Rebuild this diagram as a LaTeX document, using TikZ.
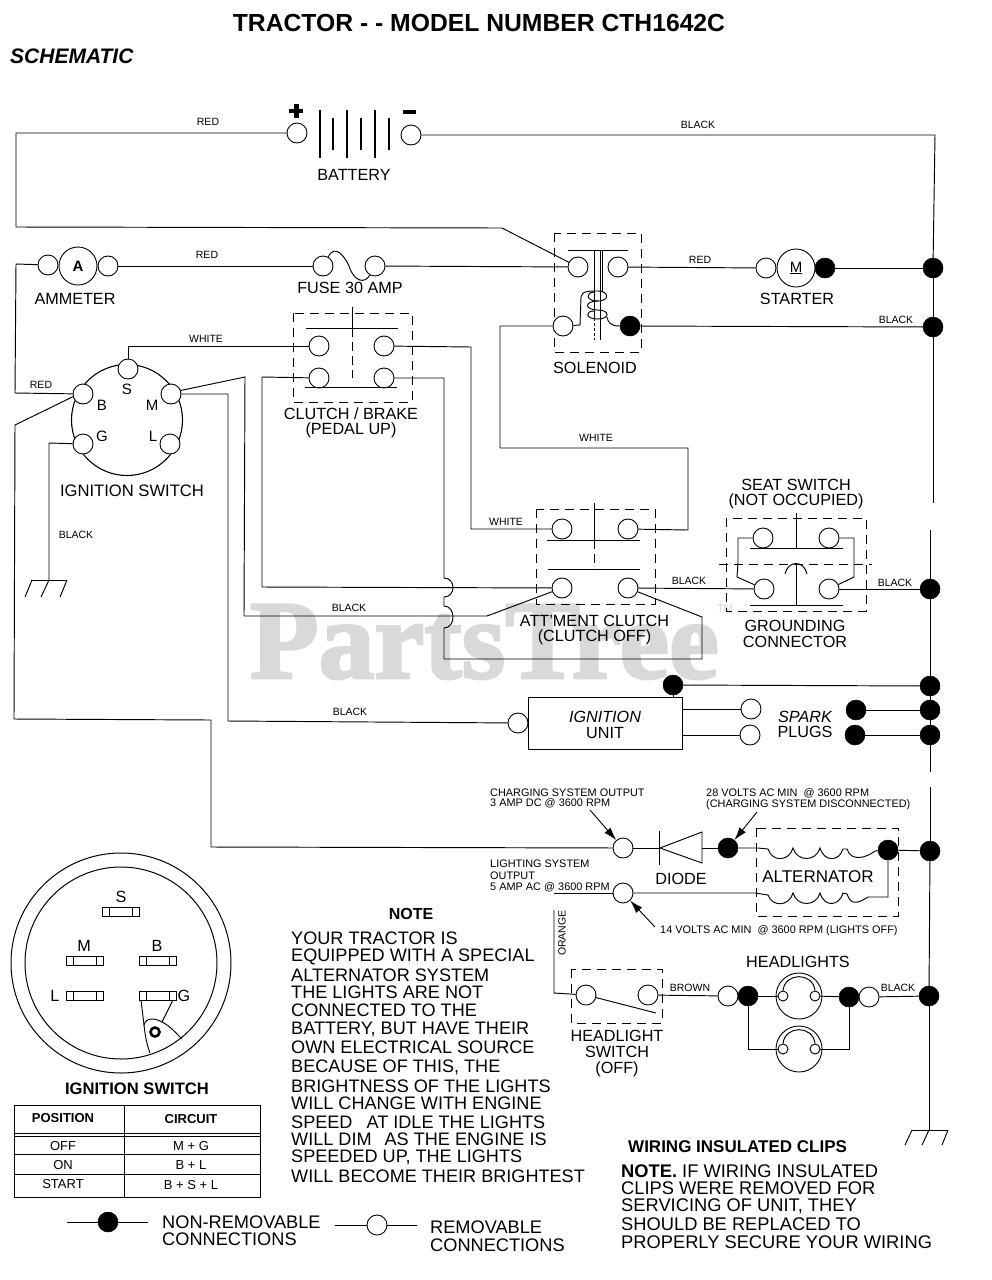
\documentclass[tikz,border=0pt]{standalone}
\usepackage{fontspec}
\setmainfont{Liberation Sans}
\newfontfamily\wmfont[FakeBold=2.5]{Liberation Serif Bold}
\usetikzlibrary{arrows.meta}
\newcommand{\fs}[1]{\fontsize{#1}{#1}\selectfont}
\tikzset{
  wire/.style={line width=0.95pt,line join=miter},
  opn/.style={circle,draw,fill=white,line width=0.9pt,minimum size=20pt,inner sep=0pt},
  dotc/.style={circle,draw,fill=black,line width=0.5pt,minimum size=20pt,inner sep=0pt},
  tiny/.style={circle,draw,fill=white,line width=0.9pt,minimum size=10pt,inner sep=0pt},
  dbox/.style={line width=0.9pt,dash pattern=on 9pt off 6pt},
  lab/.style={inner sep=0pt,font=\fs{16.2}},
  small/.style={inner sep=0pt,font=\fs{10.5}},
  mini/.style={inner sep=0pt,font=\fs{10.9}},
  txt/.style={inner sep=0pt,anchor=west,font=\fs{18.3}},
  ntxt/.style={inner sep=0pt,anchor=west,font=\fs{18.1}},
  leg/.style={inner sep=0pt,anchor=west,font=\fs{18.2}},
  pointer/.style={line width=0.9pt,-{Latex[length=13pt,width=8pt]}},
}
\begin{document}
\begin{tikzpicture}[x=1pt,y=-1pt]
\useasboundingbox (0,0) rectangle (992,1280);
\fill[white] (0,0) rectangle (992,1280);

% watermark
\node[inner sep=0pt,anchor=base west,text=black!15,font={\fontsize{112}{112}\selectfont\wmfont}] (wm) at (250,678) {PartsTree};
\node[inner sep=0pt,text=black!15,font=\fs{11}] (tm) at (725,609) {TM};

% titles
\node[inner sep=0pt,font={\fs{24.7}\bfseries}] (title) at (479,23) {TRACTOR - - MODEL NUMBER CTH1642C};
\node[inner sep=0pt,anchor=west,font={\fs{21}\bfseries\itshape}] (sch) at (10,56) {SCHEMATIC};

%%% battery
\node[opn] (batp) at (297,133) {};
\node[opn] (batn) at (411,135) {};
\foreach \x in {320,347,375} \draw[line width=1.1pt] (\x,110) -- (\x,158);
\foreach \x in {333,361,389} \draw[line width=1.1pt] (\x,118) -- (\x,150);
\fill (293.5,104) rectangle (298.5,118);
\fill (289,109) rectangle (303,113);
\fill (403,110) rectangle (416,114);
\node[lab] (batl) at (354,175) {BATTERY};
\node[small] at (208,122) {RED};
\node[small] at (698,125) {BLACK};

%%% ammeter, fuse
\node[opn] (aml) at (48,265) {};
\node[opn] (amr) at (108,266) {};
\node[circle,draw,fill=white,line width=0.9pt,minimum size=38pt,inner sep=0pt,font={\fs{15}\bfseries}] (am) at (78,266) {A};
\node[lab] at (75,299) {AMMETER};
\node[opn] (fl) at (323,266) {};
\node[opn] (fr) at (375,266) {};
\draw[wire] (fl.60) .. controls (335,243) and (345,257) .. (349,266) .. controls (354,282) and (365,284) .. (fr.240);
\node[lab] at (350,288) {FUSE 30 AMP};
\node[small] at (207,255) {RED};

%%% ignition switch
\node[circle,draw,line width=1.1pt,minimum size=111pt,inner sep=0pt] (ign) at (127,420) {};
\node[opn] (S) at (128,369) {};
\node[opn] (B) at (83,394) {};
\node[opn] (M) at (171,394) {};
\node[opn] (L) at (170,444) {};
\node[opn] (G) at (83,444) {};
\foreach \t/\x/\y in {S/127/389,B/102/405,M/152/405,G/102/436,L/153/436}
  \node[lab,font=\fs{15}] at (\x,\y) {\t};
\node[lab,font=\fs{16.6}] at (132,491) {IGNITION SWITCH};
\node[small] at (41,385) {RED};
\node[small] at (206,339) {WHITE};
\node[small] at (76,535) {BLACK};
\node[small] at (349,608) {BLACK};

% ground
\coordinate (gndl) at (49,580);
\draw[wire] (32,580) -- (67,580);
\draw[wire] (32,580) -- (25,597) (49,580) -- (41,597) (67,580) -- (60,597);
\coordinate (gndr) at (929,1130);
\draw[wire] (912,1130) -- (948,1130);
\draw[wire] (912,1130) -- (905,1145) (929,1130) -- (922,1145) (948,1130) -- (942,1145);

%%% clutch/brake
\draw[dbox] (293,313) rectangle (412,402);
\node[opn] (cb1) at (319,346) {};
\node[opn] (cb2) at (384,346) {};
\node[opn] (cb3) at (319,378) {};
\node[opn] (cb4) at (384,378) {};
\draw[wire] (306,328) -- (398,328) (305,387) -- (397,387);
\draw[wire] (352,307) -- (352,328);
\draw[wire,dash pattern=on 9pt off 5pt] (352,328) -- (352,378);
\node[lab] at (351,414) {CLUTCH / BRAKE};
\node[lab] at (351,430) {(PEDAL UP)};

%%% solenoid
\draw[dbox] (554,233) rectangle (641,352);
\node[opn] (sa) at (578,267) {};
\node[opn] (sb) at (618,267) {};
\node[opn] (sc) at (563,326) {};
\node[dotc] (sd) at (630,326) {};
\draw[wire] (568,250) -- (628,250);
\draw[wire] (594,251) -- (594,318) (600,251) -- (600,340) (602,251) -- (602,292);
\draw[wire,dash pattern=on 3pt off 2pt] (594,318) -- (594,340);
\draw[wire] (sc) -- (580,325) -- (581,297) .. controls (581,291) and (590,291) .. (598,291)
  .. controls (609,291) and (610,301) .. (598,301) .. controls (584,301) and (584,310) .. (598,310)
  .. controls (610,310) and (610,319) .. (598,319) (607,317) .. controls (608,322) and (610,326) .. (sd);
\draw[wire] (598,301) .. controls (586,301) and (585,293) .. (594,292);
\draw[wire] (598,319) .. controls (585,319) and (585,311) .. (594,311);
\node[lab] at (595,368) {SOLENOID};

%%% starter
\node[opn] (stl) at (766,268) {};
\node[dotc] (std) at (825,268) {};
\node[circle,draw,fill=white,line width=0.9pt,minimum size=38pt,inner sep=0pt] (st) at (796,268) {};
\node[lab,font={\fs{15}}] at (796,268) {\underline{M}};
\node[lab] at (797,299) {STARTER};
\node[small] at (700,260) {RED};
\node[small] at (896,320) {BLACK};

%%% attachment clutch
\draw[dbox] (536,509) rectangle (655,604);
\node[opn] (ac1) at (562,529) {};
\node[opn] (ac2) at (628,529) {};
\node[opn] (ac3) at (562,588) {};
\node[opn] (ac4) at (628,588) {};
\draw[wire] (547,540) -- (640,540) (548,569) -- (640,569);
\draw[wire] (594.5,503) -- (594.5,540);
\draw[wire,dash pattern=on 9pt off 5pt] (594.5,540) -- (594.5,568);
\node[lab] at (594.5,621) {ATT'MENT CLUTCH};
\node[lab] at (594.5,637) {(CLUTCH OFF)};
\node[small] at (506,522) {WHITE};
\node[small] at (596,438) {WHITE};
\node[small] at (689,581) {BLACK};

%%% seat switch
\draw[dbox] (726,518) rectangle (866,611);
\draw[dbox] (719,564) -- (872,564);
\node[opn] (ss1) at (763,538) {};
\node[opn] (ss2) at (829,538) {};
\node[opn] (ss3) at (764,589) {};
\node[opn] (ss4) at (829,589) {};
\draw[wire] (750,548) -- (843,548) (750,605) -- (843,605);
\draw[wire] (796,513) -- (796,548) (796,564) -- (796,605);
\draw[wire] (785,574) .. controls (788,560) and (804,560) .. (807,574);
\draw[wire] (ss1) -- (738,538) -- (738,563) -- (737,577) -- (ss3);
\draw[wire] (ss2) -- (854,538) -- (854,577) -- (ss4);
\node[lab] at (796,485) {SEAT SWITCH};
\node[lab] at (796,501) {(NOT OCCUPIED)};
\node[lab] at (795,626) {GROUNDING};
\node[lab] at (795,642) {CONNECTOR};
\node[small] at (895,583) {BLACK};

%%% ignition unit
\node[draw,line width=1pt,minimum width=154pt,minimum height=52pt,inner sep=0pt] (iu) at (605,723) {};
\coordinate (iuo1) at (682,709);
\coordinate (iuo2) at (682,735);
\coordinate (iutop) at (673,697);
\node[lab,font={\fs{16.2}\itshape}] at (605,717) {IGNITION};
\node[lab] at (605,733) {UNIT};
\node[opn] (iui) at (518,723) {};
\node[dotc] (iut) at (673,685) {};
\node[opn] (sp1) at (751,709) {};
\node[opn] (sp2) at (750,735) {};
\node[dotc] (sd1) at (856,710) {};
\node[dotc] (sd2) at (855,735) {};
\node[lab,font={\fs{16.2}\itshape}] at (805,717) {SPARK};
\node[lab] at (805,732) {PLUGS};
\node[small] at (350,712) {BLACK};

%%% charging
\node[opn] (cho) at (623,848) {};
\node[dotc] (chd) at (728,848) {};
\node[dotc] (alt) at (888,850) {};
\draw[dbox] (756,828) rectangle (898,916);
\coordinate (dka) at (660,848);
\coordinate (dan) at (702,848);
\draw[wire] (659,831) -- (659,865);
\draw[wire] (702,832) -- (dka) -- (702,863) -- cycle;
\node[lab] at (681,879) {DIODE};
\node[lab,font=\fs{17}] at (818,877) {ALTERNATOR};
\node[mini,anchor=west] at (490,793) {CHARGING SYSTEM OUTPUT};
\node[mini,anchor=west] at (490,803) {3 AMP DC @ 3600 RPM};
\node[mini,anchor=west] at (706,793) {28 VOLTS AC MIN \ @ 3600 RPM};
\node[mini,anchor=west] at (706,805) {(CHARGING SYSTEM DISCONNECTED)};
\node[mini,anchor=west] at (490,864) {LIGHTING SYSTEM};
\node[mini,anchor=west] at (490,876) {OUTPUT};
\node[mini,anchor=west] at (490,887) {5 AMP AC @ 3600 RPM};
\node[mini,anchor=west] at (660,931) {14 VOLTS AC MIN \ @ 3600 RPM (LIGHTS OFF)};
\node[opn] (lso) at (623,893) {};
\coordinate (p1) at (590,810);
\coordinate (p2) at (757,812);
\coordinate (p3) at (655,927);
\draw[pointer] (p1) -- (cho);
\draw[pointer] (p2) -- (chd);
\draw[pointer] (p3) -- (lso);
% alternator coils
\draw[wire] (chd) -- (758,848) -- (768,849)
  .. controls (772,862) and (789,862) .. (793,848)
  .. controls (797,862) and (816,862) .. (820,848)
  .. controls (824,862) and (839,862) .. (843,849)
  -- (847,849) .. controls (851,862) and (866,858) .. (875,851) -- (alt);
\draw[wire] (lso) -- (755,893) -- (768,895)
  .. controls (772,907) and (789,907) .. (793,893)
  .. controls (797,907) and (816,907) .. (820,893)
  .. controls (824,907) and (839,907) .. (843,893)
  -- (847,894) .. controls (851,907) and (860,902) .. (868,897) -- (888,897) -- (alt);

%%% headlight switch
\draw[dbox] (571,969) rectangle (662,1023);
\node[opn] (hs1) at (586,995) {};
\node[opn] (hs2) at (648,995) {};
\coordinate (blade) at (656,1013);
\draw[wire] (hs1) -- (blade);
\node[lab] at (617,1036) {HEADLIGHT};
\node[lab] at (617,1052) {SWITCH};
\node[lab] at (617,1069) {(OFF)};
\node[small,rotate=90] at (562,933) {ORANGE};
\node[small] at (690,988) {BROWN};
\node[small] at (898,988) {BLACK};

%%% headlights
\node[lab] at (798,962) {HEADLIGHTS};
\node[opn] (hla) at (728,996) {};
\node[dotc] (hld) at (748,996) {};
\node[opn] (hlb) at (869,997) {};
\node[dotc] (hle) at (849,997) {};
\node[circle,draw,line width=0.9pt,minimum size=46pt,inner sep=0pt] (l1) at (799,996) {};
\node[tiny] (l1a) at (783,996) {};
\node[tiny] (l1b) at (815,996) {};
\draw[wire] (l1a.north) .. controls (785,972) and (813,972) .. (l1b.north);
\node[circle,draw,line width=0.9pt,minimum size=46pt,inner sep=0pt] (l2) at (799,1049) {};
\node[tiny] (l2a) at (783,1049) {};
\node[tiny] (l2b) at (815,1049) {};
\draw[wire] (l2a.north) .. controls (785,1025) and (813,1025) .. (l2b.north);

%%% bus dots
\node[dotc] (b1) at (933,268) {};
\node[dotc] (b2) at (933,327) {};
\node[dotc] (b3) at (930,589) {};
\node[dotc] (b4) at (930,686) {};
\node[dotc] (b5) at (930,710) {};
\node[dotc] (b6) at (930,735) {};
\node[dotc] (b7) at (930,851) {};
\node[dotc] (b8) at (929,996) {};

%%% wires
\draw[wire] (batp) -- (16,133) -- (16,227) -- (502,228) -- (sa);
\draw[wire] (batn) -- (935,135) -- (b1);
\draw[wire] (aml) -- (16,264) -- (15,393) -- (B);
\draw[wire] (amr) -- (fl);
\draw[wire] (fr) -- (sa);
\draw[wire] (S) -- (128,346) -- (cb1);
\draw[wire] (B.195) -- (15,425) -- (14,719) -- (211,720) -- (211,847) -- (cho);
\draw[wire] (M.20) -- (245,377) -- (244,616) -- (487,616) -- (ac3);
\draw[wire] (M) -- (228,394) -- (228,721) -- (iui);
\draw[wire] (G) -- (49,443) -- (gndl);
\draw[wire] (cb2) -- (471,347) -- (471,529) -- (ac1);
\draw[wire] (cb3) -- (262,377) -- (262,587) -- (ac3);
\draw[wire] (cb4) -- (444,378) -- (444,578) .. controls (456,578) and (456,597) .. (444,597) -- (444,606)
  .. controls (456,606) and (456,628) .. (444,628) -- (444,659) -- (702,659) -- (702,617) -- (ac4);
\draw[wire] (ac2) -- (688,530) -- (688,448) -- (500,448) -- (500,326) -- (sc);
\draw[wire] (ac4) -- (ss3);
\draw[wire] (ss4) -- (b3);
\draw[wire] (sb) -- (stl);
\draw[wire] (std) -- (b1);
\draw[wire] (sd) -- (b2);
\draw[wire] (iut) -- (b4);
\draw[wire] (iut) -- (iutop);
\draw[wire] (iuo1) -- (sp1);
\draw[wire] (iuo2) -- (sp2);
\draw[wire] (sd1) -- (b5);
\draw[wire] (sd2) -- (b6);
\draw[wire] (cho) -- (dka);
\draw[wire] (dan) -- (chd);
\draw[wire] (alt) -- (b7);
\draw[wire] (lso) -- (554,893);
\draw[wire] (554,910) -- (554,993) -- (hs1);
\draw[wire] (hs2) -- (hla);
\draw[wire] (hld) -- (l1a);
\draw[wire] (l1b) -- (hle);
\draw[wire] (hlb) -- (b8);
\draw[wire] (hld) -- (748,1049) -- (l2a);
\draw[wire] (hle) -- (849,1049) -- (l2b);
% vertical bus
\draw[wire] (b1) -- (b2);
\draw[wire] (b2) -- (933,503);
\draw[wire] (930,530) -- (b3);
\draw[wire] (b3) -- (b4);
\draw[wire] (b4) -- (b5);
\draw[wire] (b5) -- (b6);
\draw[wire] (b6) -- (930,772);
\draw[wire] (930,787) -- (b7);
\draw[wire] (b7) -- (b8);
\draw[wire] (b8) -- (gndr);

%%% switch detail
\draw[line width=1pt] (121,963) circle[radius=110];
\draw[line width=1pt] (121,963) circle[radius=96];
\foreach \n/\t/\xx/\yy/\lx/\ly in {a/S/102/907/121/897,b/M/66/956/84/946,c/B/139/956/157/946}{
  \draw[line width=1pt] (\xx,\yy) rectangle +(37,9);
  \draw[line width=.8pt] (\xx+7,\yy) -- +(0,9) (\xx+30,\yy) -- +(0,9);
  \node[lab] (pin\n) at (\lx,\ly) {\t};
}
\foreach \n/\t/\xx/\lx in {d/L/66/55,e/G/139/184}{
  \draw[line width=1pt] (\xx,991) rectangle +(37,9);
  \draw[line width=.8pt] (\xx+7,991) -- +(0,9) (\xx+30,991) -- +(0,9);
  \node[lab] (pin\n) at (\lx,996) {\t};
}
\draw[wire] (141,1000) -- (144,1025) .. controls (145,1035) and (147,1045) .. (150,1053);
\draw[wire] (173,1000) -- (162,1022);
\draw[wire] (144,1025) .. controls (146,1017) and (155,1018) .. (162,1022) .. controls (170,1026) and (176,1033) .. (182,1039);
\draw[line width=2.6pt] (155,1032) circle[radius=4.5];
\node[inner sep=0pt,font={\fs{16.6}\bfseries}] at (137,1089) {IGNITION SWITCH};

%%% table
\draw[line width=1pt] (14,1105) rectangle (260,1197);
\draw[line width=1pt] (124,1105) -- (124,1197);
\draw[line width=1pt] (14,1133) -- (260,1133) (14,1136) -- (260,1136) (14,1154) -- (260,1154) (14,1174) -- (260,1174);
\node[inner sep=0pt,font={\fs{13}\bfseries}] at (63,1118) {POSITION};
\node[inner sep=0pt,font={\fs{13}\bfseries}] at (191,1119) {CIRCUIT};
\node[inner sep=0pt,font=\fs{13}] at (63,1146) {OFF};
\node[inner sep=0pt,font=\fs{13}] at (191,1146) {M + G};
\node[inner sep=0pt,font=\fs{13}] at (63,1165) {ON};
\node[inner sep=0pt,font=\fs{13}] at (191,1165) {B + L};
\node[inner sep=0pt,font=\fs{13}] at (63,1184) {START};
\node[inner sep=0pt,font=\fs{13}] at (191,1185) {B + S + L};

%%% legend
\coordinate (lg1) at (67,1222);
\coordinate (lg2) at (148,1222);
\node[dotc] (lgd) at (108,1222) {};
\draw[wire] (lg1) -- (lgd); \draw[wire] (lgd) -- (lg2);
\node[leg] at (162,1222) {NON-REMOVABLE};
\node[leg] at (162,1239) {CONNECTIONS};
\coordinate (lg3) at (335,1225);
\coordinate (lg4) at (417,1225);
\node[opn] (lgo) at (377,1225) {};
\draw[wire] (lg3) -- (lgo); \draw[wire] (lgo) -- (lg4);
\node[leg] at (430,1227) {REMOVABLE};
\node[leg] at (430,1245) {CONNECTIONS};

%%% notes
\node[inner sep=0pt,font={\fs{16}\bfseries}] at (411,914) {NOTE};
\foreach \l/\y in {{YOUR TRACTOR IS}/938,{EQUIPPED WITH A SPECIAL}/957,{ALTERNATOR SYSTEM}/975,{THE LIGHTS ARE NOT}/992,{CONNECTED TO THE}/1010,{BATTERY, BUT HAVE THEIR}/1029,{OWN ELECTRICAL SOURCE}/1047,{BECAUSE OF THIS, THE}/1067,{BRIGHTNESS OF THE LIGHTS}/1086,{WILL CHANGE WITH ENGINE}/1103,{SPEED\hspace{9pt} AT IDLE THE LIGHTS}/1122,{WILL DIM\hspace{8pt} AS THE ENGINE IS}/1139,{SPEEDED UP, THE LIGHTS}/1157,{WILL BECOME THEIR BRIGHTEST}/1176}
  \node[ntxt] at (291,\y) {\l};
\node[inner sep=0pt,anchor=west,font={\fs{17}\bfseries}] at (628,1147) {WIRING INSULATED CLIPS};
\node[txt] at (621,1171) {\textbf{NOTE.} IF WIRING INSULATED};
\foreach \l/\y in {{CLIPS WERE REMOVED FOR}/1188,{SERVICING OF UNIT, THEY}/1206,{SHOULD BE REPLACED TO}/1224,{PROPERLY SECURE YOUR WIRING}/1242}
  \node[txt] at (621,\y) {\l};
\end{tikzpicture}
\end{document}
